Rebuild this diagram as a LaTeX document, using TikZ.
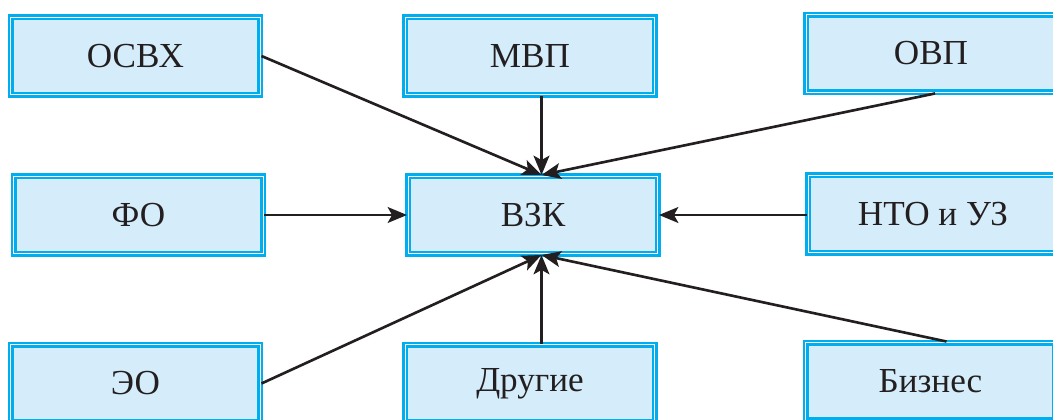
\documentclass[tikz,border=0pt]{standalone}
\usepackage{fontspec}
\setmainfont{Liberation Serif}
\usetikzlibrary{arrows.meta}
\definecolor{bleu}{RGB}{0,174,239}
\definecolor{bleuclair}{RGB}{213,237,250}
\definecolor{noir}{RGB}{35,31,32}
\tikzset{
  bloc/.style={draw=bleu, double=white, line width=1.4pt, double distance=0.8pt,
    fill=bleuclair, minimum width=4.99cm, minimum height=1.55cm, inner sep=0pt,
    font=\fontsize{20}{24}\selectfont, text=noir},
  fleche/.style={draw=noir, line width=1.5pt, -{Stealth[length=11pt,width=9pt,inset=2.5pt]}}
}

\begin{document}
\begin{tikzpicture}
   \useasboundingbox (0,0) rectangle (21.06,8.4);

   % les blocs
   \node[bloc] (osvx) at (2.71,7.28) {ОСВХ};
   \node[bloc] (mvp) at (10.6,7.28) {МВП};
   \node[bloc] (ovp) at (18.62,7.33) {ОВП};
   \node[bloc] (fo) at (2.77,4.1) {ФО};
   \node[bloc] (vzk) at (10.66,4.1) {ВЗК};
   \node[bloc] (nto) at (18.66,4.12) {НТО и УЗ};
   \node[bloc] (eo) at (2.71,0.73) {ЭО};
   \node[bloc] (drugie) at (10.6,0.73) {Другие};
   \node[bloc] (biznes) at (18.61,0.77) {Бизнес};

   % Les flèches convergent vers ВЗК
   \coordinate (vzkN) at ([xshift=0.17cm]vzk.north);
   \coordinate (vzkS) at ([xshift=0.17cm]vzk.south);
   \draw[fleche] (osvx.east) -- (vzkN);
   \draw[fleche] (mvp.south -| vzkN) -- (vzkN);
   \draw[fleche] ([xshift=0.08cm]ovp.south) -- (vzkN);
   \draw[fleche] (fo.east) -- (vzk.west);
   \draw[fleche] (nto.west |- vzk.east) -- (vzk.east);
   \draw[fleche] (eo.east) -- (vzkS);
   \draw[fleche] (drugie.north -| vzkS) -- (vzkS);
   \draw[fleche] ([xshift=0.32cm]biznes.north) -- (vzkS);
\end{tikzpicture}
\end{document}
